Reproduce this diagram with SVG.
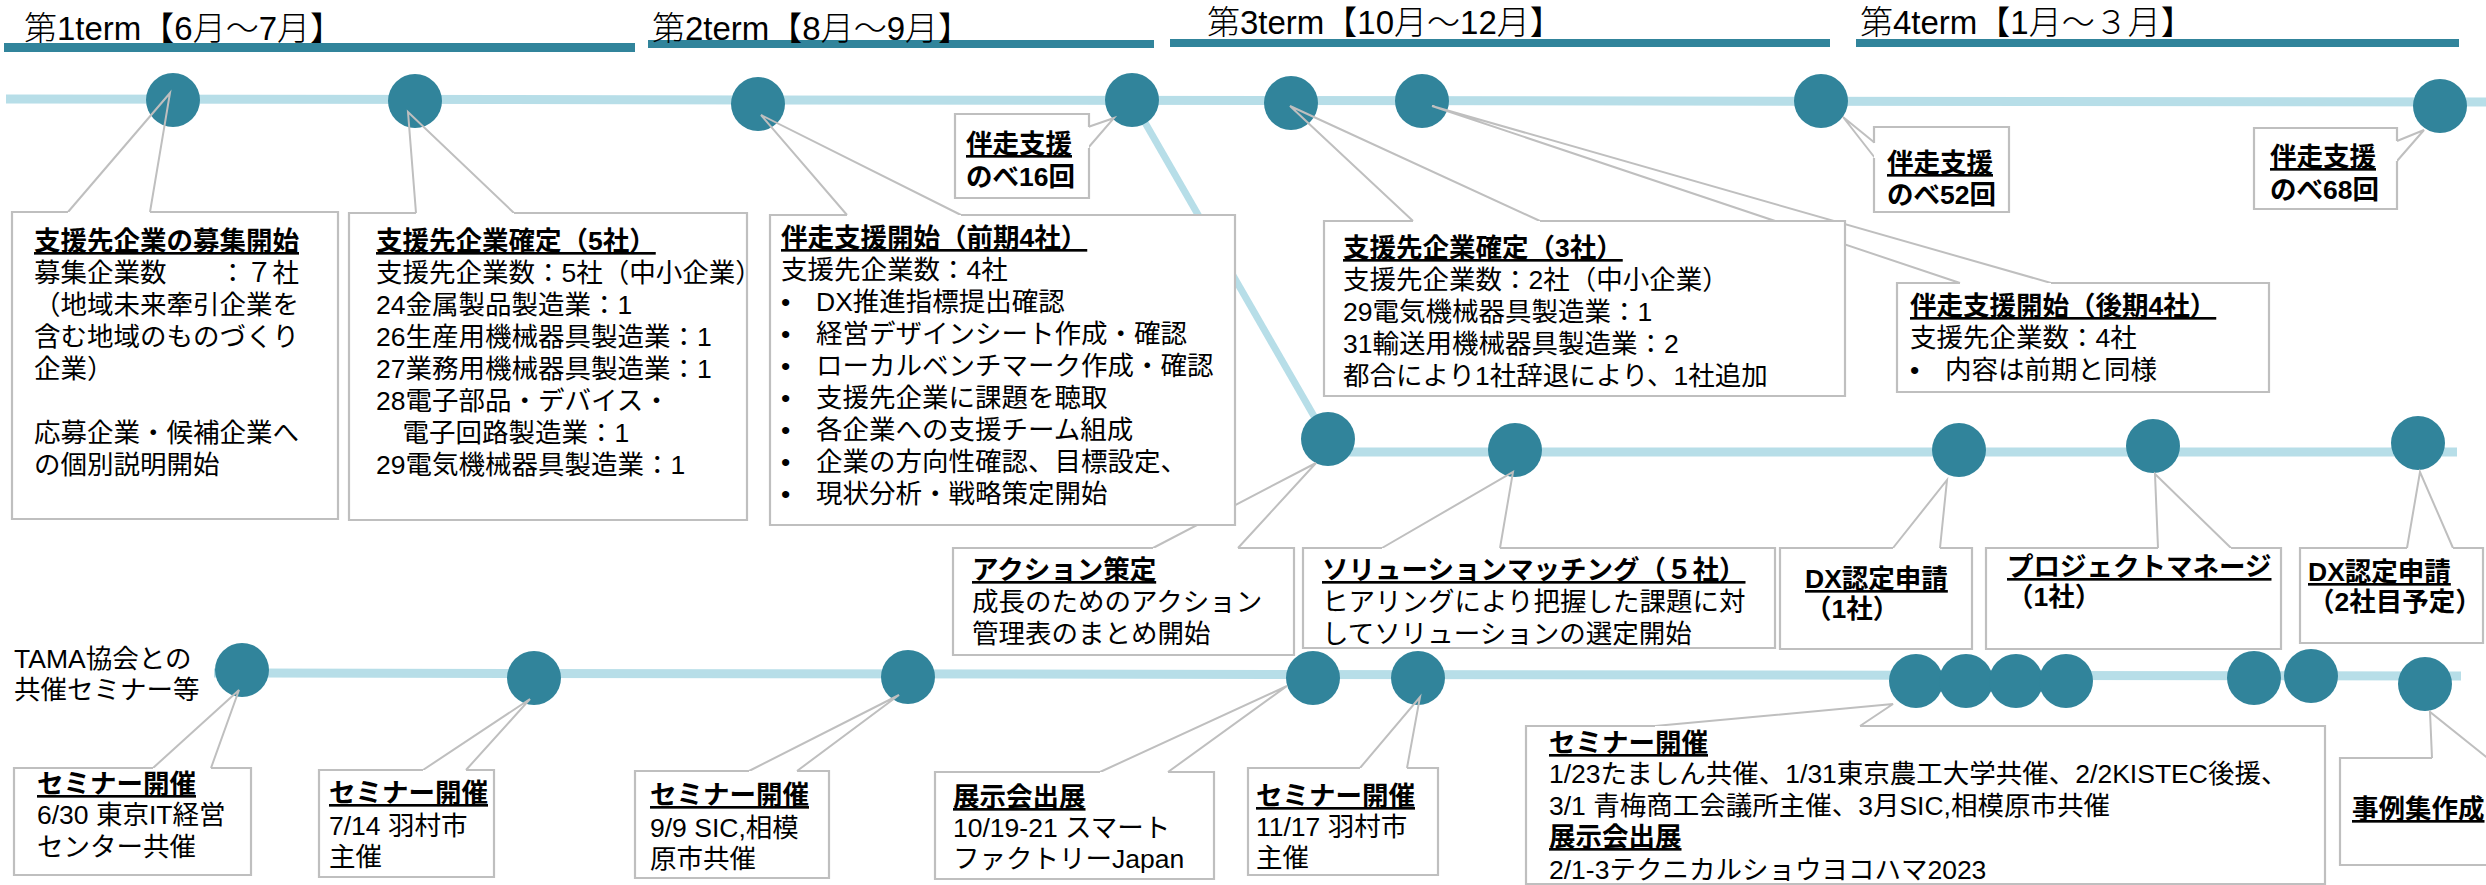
<svg xmlns="http://www.w3.org/2000/svg" width="2486" height="885" viewBox="0 0 2486 885">
<style>
.bg{fill:#fff}
.bar{fill:#31849B}
.tl{stroke:#B7DEE8;stroke-width:9;fill:none}
.dot{fill:#31849B}
.ptr{fill:none;stroke:#BFBFBF;stroke-width:2}
.bf{fill:#fff;stroke:none}
.bd{fill:none;stroke:#BFBFBF;stroke-width:2.2}
.t{font-family:"Liberation Sans","Noto Sans CJK JP",sans-serif;font-size:26.5px;fill:#000}
.h{font-family:"Liberation Sans","Noto Sans CJK JP",sans-serif;font-size:33px;fill:#000;font-weight:300}
.b{font-weight:bold}
.u{font-weight:bold;text-decoration:underline}
</style>
<rect class="bg" x="0" y="0" width="2486" height="885"/>

<g id="terms">
<rect class="bar" x="4" y="43" width="631" height="9"/>
<rect class="bar" x="648" y="40" width="506" height="8"/>
<rect class="bar" x="1170" y="39" width="660" height="8"/>
<rect class="bar" x="1856" y="39" width="603" height="8"/>
<text class="h" x="24" y="40">第1term【6月～7月】</text>
<text class="h" x="652" y="40">第2term【8月～9月】</text>
<text class="h" x="1207" y="34">第3term【10月～12月】</text>
<text class="h" x="1860" y="34">第4term【1月～３月】</text>
</g>

<g id="timelines">
<line class="tl" x1="6" y1="99" x2="2486" y2="102"/>
<line class="tl" x1="1132" y1="100" x2="1326" y2="437" style="stroke-width:7"/>
<line class="tl" x1="1330" y1="452" x2="2457" y2="452"/>
<line class="tl" x1="214" y1="673" x2="2461" y2="676"/>
</g>

<g id="dots">
<g id="d1"><circle class="dot" cx="173" cy="100" r="27"/></g>
<g id="d2"><circle class="dot" cx="415" cy="101" r="27"/></g>
<g id="d3"><circle class="dot" cx="758" cy="104" r="27"/></g>
<g id="d4"><circle class="dot" cx="1132" cy="100" r="27"/></g>
<g id="d5"><circle class="dot" cx="1291" cy="103" r="27"/></g>
<g id="d6"><circle class="dot" cx="1422" cy="101" r="27"/></g>
<g id="d7"><circle class="dot" cx="1821" cy="101" r="27"/></g>
<g id="d8"><circle class="dot" cx="2440" cy="106" r="27"/></g>
<g id="m1"><circle class="dot" cx="1328" cy="439" r="27"/></g>
<g id="m2"><circle class="dot" cx="1515" cy="450" r="27"/></g>
<g id="m3"><circle class="dot" cx="1959" cy="450" r="27"/></g>
<g id="m4"><circle class="dot" cx="2153" cy="446" r="27"/></g>
<g id="m5"><circle class="dot" cx="2418" cy="443" r="27"/></g>
<g id="s1"><circle class="dot" cx="242" cy="670" r="27"/></g>
<g id="s2"><circle class="dot" cx="534" cy="678" r="27"/></g>
<g id="s3"><circle class="dot" cx="908" cy="677" r="27"/></g>
<g id="s4"><circle class="dot" cx="1313" cy="678" r="27"/></g>
<g id="s5"><circle class="dot" cx="1418" cy="678" r="27"/></g>
<g id="s6"><circle class="dot" cx="1916" cy="681" r="27"/><circle class="dot" cx="1966" cy="681" r="27"/><circle class="dot" cx="2016" cy="681" r="27"/><circle class="dot" cx="2066" cy="681" r="27"/></g>
<g id="s7"><circle class="dot" cx="2254" cy="678" r="27"/><circle class="dot" cx="2311" cy="676" r="27"/></g>
<g id="s8"><circle class="dot" cx="2425" cy="684" r="27"/></g>
</g>

<g id="connectors">
<polyline class="ptr" points="68,212 170,93 150,212"/>
<polyline class="ptr" points="416,213 408,112 514,213"/>
<polyline class="ptr" points="847,215 761,115 961,215"/>
<polyline class="ptr" points="1088,127 1114,118 1088,148"/>
<polyline class="ptr" points="1413,221 1290,106 1540,221"/>
<polyline class="ptr" points="1960,283 1432,106 2051,283"/>
<polyline class="ptr" points="1875,143 1843,117 1875,158"/>
<polyline class="ptr" points="2397,141 2424,130 2397,161"/>
<polyline class="ptr" points="1153,548 1316,463 1238,548"/>
<polyline class="ptr" points="1382,548 1513,472 1500,548"/>
<polyline class="ptr" points="1893,548 1947,480 1940,548"/>
<polyline class="ptr" points="2158,548 2155,474 2231,548"/>
<polyline class="ptr" points="2407,548 2420,472 2453,548"/>
<polyline class="ptr" points="153,768 239,690 211,768"/>
<polyline class="ptr" points="423,770 530,699 466,770"/>
<polyline class="ptr" points="749,771 899,695 797,771"/>
<polyline class="ptr" points="1100,772 1287,686 1168,772"/>
<polyline class="ptr" points="1360,768 1420,697 1407,768"/>
<polyline class="ptr" points="1655,726 1893,704 1860,726"/>
<polyline class="ptr" points="2432,758 2430,712 2490,760"/>
</g>

<g id="box6">
<rect class="bf" x="1897" y="283" width="372" height="109"/>
<path class="bd" d="M1960,283 H1897 V392 H2269 V283 H2051"/>
<text class="t u" x="1910" y="315">伴走支援開始（後期4社）</text>
<text class="t"><tspan x="1910" y="347">支援先企業数：4社</tspan><tspan x="1910" y="379">•</tspan><tspan x="1945" y="379">内容は前期と同様</tspan></text>
</g>

<g id="box1">
<rect class="bf" x="12" y="212" width="326" height="307"/>
<path class="bd" d="M68,212 H12 V519 H338 V212 H150"/>
<text class="t u" x="34" y="250">支援先企業の募集開始</text>
<text class="t"><tspan x="34" y="282">募集企業数　　：７社</tspan><tspan x="34" y="314">（地域未来牽引企業を</tspan><tspan x="34" y="346">含む地域のものづくり</tspan><tspan x="34" y="378">企業）</tspan><tspan x="34" y="442">応募企業・候補企業へ</tspan><tspan x="34" y="474">の個別説明開始</tspan></text>
</g>

<g id="box2">
<rect class="bf" x="349" y="213" width="398" height="307"/>
<path class="bd" d="M416,213 H349 V520 H747 V213 H514"/>
<text class="t u" x="376" y="250">支援先企業確定（5社）</text>
<text class="t"><tspan x="376" y="282">支援先企業数：5社（中小企業）</tspan><tspan x="376" y="314">24金属製品製造業：1</tspan><tspan x="376" y="346">26生産用機械器具製造業：1</tspan><tspan x="376" y="378">27業務用機械器具製造業：1</tspan><tspan x="376" y="410">28電子部品・デバイス・</tspan><tspan x="376" y="442">　電子回路製造業：1</tspan><tspan x="376" y="474">29電気機械器具製造業：1</tspan></text>
</g>

<g id="box3">
<rect class="bf" x="770" y="215" width="465" height="310"/>
<path class="bd" d="M847,215 H770 V525 H1235 V215 H961"/>
<text class="t u" x="781" y="247">伴走支援開始（前期4社）</text>
<text class="t"><tspan x="781" y="279">支援先企業数：4社</tspan><tspan x="781" y="311">•</tspan><tspan x="816" y="311">DX推進指標提出確認</tspan><tspan x="781" y="343">•</tspan><tspan x="816" y="343">経営デザインシート作成・確認</tspan><tspan x="781" y="375">•</tspan><tspan x="816" y="375">ローカルベンチマーク作成・確認</tspan><tspan x="781" y="407">•</tspan><tspan x="816" y="407">支援先企業に課題を聴取</tspan><tspan x="781" y="439">•</tspan><tspan x="816" y="439">各企業への支援チーム組成</tspan><tspan x="781" y="471">•</tspan><tspan x="816" y="471">企業の方向性確認、目標設定、</tspan><tspan x="781" y="503">•</tspan><tspan x="816" y="503">現状分析・戦略策定開始</tspan></text>
</g>

<g id="box4">
<rect class="bf" x="955" y="114" width="134" height="84"/>
<path class="bd" d="M1089,127 V114 H955 V198 H1089 V148"/>
<text class="t u" x="966" y="153">伴走支援</text>
<text class="t b" x="966" y="186">のべ16回</text>
</g>

<g id="box5">
<rect class="bf" x="1324" y="221" width="521" height="175"/>
<path class="bd" d="M1413,221 H1324 V396 H1845 V221 H1540"/>
<text class="t u" x="1343" y="257">支援先企業確定（3社）</text>
<text class="t"><tspan x="1343" y="289">支援先企業数：2社（中小企業）</tspan><tspan x="1343" y="321">29電気機械器具製造業：1</tspan><tspan x="1343" y="353">31輸送用機械器具製造業：2</tspan><tspan x="1343" y="385">都合により1社辞退により、1社追加</tspan></text>
</g>

<g id="box7">
<rect class="bf" x="1874" y="127" width="135" height="85"/>
<path class="bd" d="M1874,143 V127 H2009 V212 H1874 V158"/>
<text class="t u" x="1887" y="172">伴走支援</text>
<text class="t b" x="1887" y="204">のべ52回</text>
</g>

<g id="box8">
<rect class="bf" x="2254" y="128" width="143" height="81"/>
<path class="bd" d="M2397,141 V128 H2254 V209 H2397 V161"/>
<text class="t u" x="2270" y="166">伴走支援</text>
<text class="t b" x="2270" y="199">のべ68回</text>
</g>

<g id="box9">
<rect class="bf" x="953" y="548" width="341" height="107"/>
<path class="bd" d="M1153,548 H953 V655 H1294 V548 H1238"/>
<text class="t u" x="972" y="579">アクション策定</text>
<text class="t"><tspan x="972" y="611">成長のためのアクション</tspan><tspan x="972" y="643">管理表のまとめ開始</tspan></text>
</g>

<g id="box10">
<rect class="bf" x="1303" y="548" width="472" height="100"/>
<path class="bd" d="M1382,548 H1303 V648 H1775 V548 H1500"/>
<text class="t u" x="1322" y="579">ソリューションマッチング（５社）</text>
<text class="t"><tspan x="1322" y="611">ヒアリングにより把握した課題に対</tspan><tspan x="1322" y="643">してソリューションの選定開始</tspan></text>
</g>

<g id="box11">
<rect class="bf" x="1780" y="548" width="192" height="101"/>
<path class="bd" d="M1893,548 H1780 V649 H1972 V548 H1940"/>
<text class="t u" x="1805" y="588">DX認定申請</text>
<text class="t b" x="1805" y="618">（1社）</text>
</g>

<g id="box12">
<rect class="bf" x="1986" y="548" width="295" height="101"/>
<path class="bd" d="M2158,548 H1986 V649 H2281 V548 H2231"/>
<text class="t u" x="2007" y="576">プロジェクトマネージ</text>
<text class="t b" x="2007" y="606">（1社）</text>
</g>

<g id="box13">
<rect class="bf" x="2300" y="548" width="183" height="95"/>
<path class="bd" d="M2407,548 H2300 V643 H2483 V548 H2453"/>
<text class="t u" x="2308" y="581">DX認定申請</text>
<text class="t b" x="2308" y="611">（2社目予定）</text>
</g>

<g id="tama">
<text class="t"><tspan x="14" y="668">TAMA協会との</tspan><tspan x="14" y="699">共催セミナー等</tspan></text>
</g>

<g id="box14">
<rect class="bf" x="14" y="768" width="237" height="107"/>
<path class="bd" d="M153,768 H14 V875 H251 V768 H211"/>
<text class="t u" x="37" y="793">セミナー開催</text>
<text class="t"><tspan x="37" y="824">6/30 東京IT経営</tspan><tspan x="37" y="856">センター共催</tspan></text>
</g>

<g id="box15">
<rect class="bf" x="319" y="770" width="175" height="107"/>
<path class="bd" d="M423,770 H319 V877 H494 V770 H466"/>
<text class="t u" x="329" y="802">セミナー開催</text>
<text class="t"><tspan x="329" y="835">7/14 羽村市</tspan><tspan x="329" y="866">主催</tspan></text>
</g>

<g id="box16">
<rect class="bf" x="635" y="771" width="194" height="107"/>
<path class="bd" d="M749,771 H635 V878 H829 V771 H797"/>
<text class="t u" x="650" y="804">セミナー開催</text>
<text class="t"><tspan x="650" y="837">9/9 SIC,相模</tspan><tspan x="650" y="868">原市共催</tspan></text>
</g>

<g id="box17">
<rect class="bf" x="935" y="772" width="279" height="107"/>
<path class="bd" d="M1100,772 H935 V879 H1214 V772 H1168"/>
<text class="t u" x="953" y="806">展示会出展</text>
<text class="t"><tspan x="953" y="837">10/19-21 スマート</tspan><tspan x="953" y="868">ファクトリーJapan</tspan></text>
</g>

<g id="box18">
<rect class="bf" x="1248" y="768" width="190" height="107"/>
<path class="bd" d="M1360,768 H1248 V875 H1438 V768 H1407"/>
<text class="t u" x="1256" y="805">セミナー開催</text>
<text class="t"><tspan x="1256" y="836">11/17 羽村市</tspan><tspan x="1256" y="867">主催</tspan></text>
</g>

<g id="box19">
<rect class="bf" x="1526" y="726" width="799" height="158"/>
<path class="bd" d="M1655,726 H1526 V884 H2325 V726 H1860"/>
<text class="t u" x="1549" y="752">セミナー開催</text>
<text class="t"><tspan x="1549" y="783">1/23たましん共催、1/31東京農工大学共催、2/2KISTEC後援、</tspan><tspan x="1549" y="815">3/1 青梅商工会議所主催、3月SIC,相模原市共催</tspan></text>
<text class="t u" x="1549" y="846">展示会出展</text>
<text class="t" x="1549" y="879">2/1-3テクニカルショウヨコハマ2023</text>
</g>

<g id="box20">
<rect class="bf" x="2340" y="758" width="160" height="107"/>
<path class="bd" d="M2432,758 H2340 V865 H2500"/>
<text class="t u" x="2352" y="818">事例集作成</text>
</g>
</svg>
